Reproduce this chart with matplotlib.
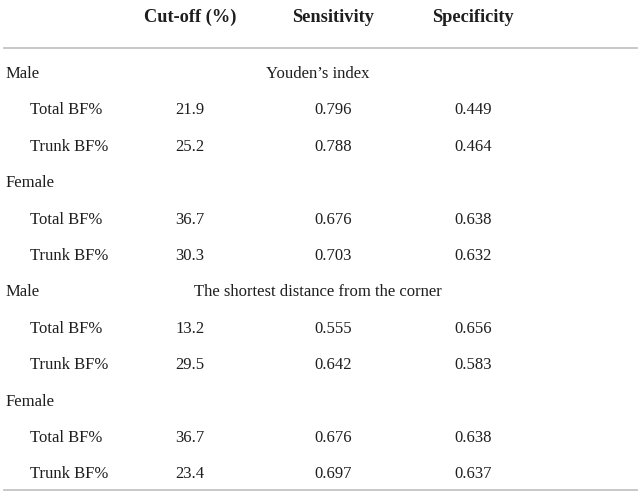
import matplotlib
matplotlib.use('Agg')
import matplotlib.pyplot as plt

# table content
headers = ['Cut-off (%)', 'Sensitivity', 'Specificity']
methods = ["Youden\u2019s index", 'The shortest distance from the corner']
sexes = ['Male', 'Female']
measures = ['Total BF%', 'Trunk BF%']
cutoff = [21.9, 25.2, 36.7, 30.3, 13.2, 29.5, 36.7, 23.4]
sensitivity = [0.796, 0.788, 0.676, 0.703, 0.555, 0.642, 0.676, 0.697]
specificity = [0.449, 0.464, 0.638, 0.632, 0.656, 0.583, 0.638, 0.637]

W, H = 641, 500
fig = plt.figure(figsize=(W / 100, H / 100), dpi=100)
ax = fig.add_axes([0, 0, 1, 1])
ax.set_xlim(0, W)
ax.set_ylim(H, 0)
ax.axis('off')

plt.rcParams['font.family'] = ['Liberation Serif', 'DejaVu Serif']
fs = 12
col_x = [190, 333, 473]
txt_col = '#1e1e1e'

for x, h in zip(col_x, headers):
    ax.text(x, 17, h, ha='center', va='center', fontsize=13.2,
            fontweight='bold', color=txt_col)

ax.plot([4, 637], [48, 48], color='#c4c4c4', lw=1.3)
ax.plot([4, 637], [490, 490], color='#c4c4c4', lw=1.3)

y = 74
step = 36.4
k = 0
for m in methods:
    for si, s in enumerate(sexes):
        ax.text(6, y, s, ha='left', va='center', fontsize=fs, color=txt_col)
        if si == 0:
            ax.text(318, y, m, ha='center', va='center', fontsize=fs, color=txt_col)
        y += step
        for meas in measures:
            ax.text(30, y, meas, ha='left', va='center', fontsize=fs, color=txt_col)
            ax.text(col_x[0], y, f'{cutoff[k]:.1f}', ha='center', va='center',
                    fontsize=fs, color=txt_col)
            ax.text(col_x[1], y, f'{sensitivity[k]:.3f}', ha='center', va='center',
                    fontsize=fs, color=txt_col)
            ax.text(col_x[2], y, f'{specificity[k]:.3f}', ha='center', va='center',
                    fontsize=fs, color=txt_col)
            k += 1
            y += step

fig.savefig('out.png', dpi=100, facecolor='white')
